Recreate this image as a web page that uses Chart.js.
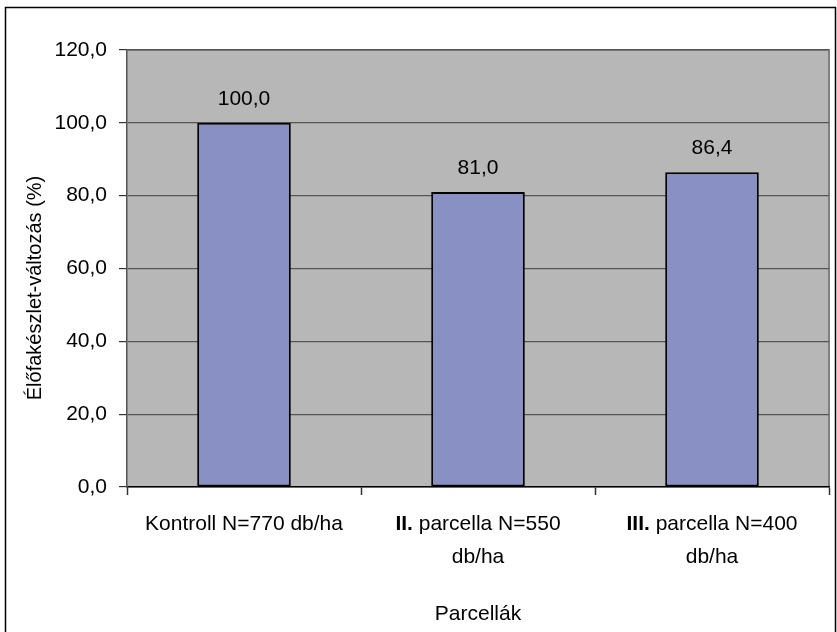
<!DOCTYPE html>
<html>
<head>
<meta charset="utf-8">
<title>Élőfakészlet-változás</title>
<script src="https://cdn.jsdelivr.net/npm/chart.js@4.4.1/dist/chart.umd.min.js"></script>
<style>
  html, body { margin: 0; padding: 0; background: #ffffff; }
  #wrap { width: 837px; height: 632px; position: relative; }
</style>
</head>
<body>
<div id="wrap"><canvas id="grafico"></canvas></div>
<script>
const parcellak = [
  "Kontroll N=770 db/ha",
  ["II. parcella N=550", "db/ha"],
  ["III. parcella N=400", "db/ha"],
];
const valtozas = [100.0, 81.0, 86.4];
const yTengelyCim = "Élőfakészlet-változás (%)";
const xTengelyCim = "Parcellák";

const BETU = "'Liberation Sans', Arial, sans-serif";
const SORKOZ = 33;

function szam(v) {
  return v.toFixed(1).replace(".", ",");
}

// háttér, keret, szürke rajzterület
const hatter = {
  id: "hatter",
  beforeDraw(chart) {
    const { ctx, chartArea: a } = chart;
    ctx.save();
    ctx.fillStyle = "#ffffff";
    ctx.fillRect(0, 0, chart.width, chart.height);
    ctx.strokeStyle = "#000000";
    ctx.lineWidth = 1.5;
    ctx.strokeRect(5.5, 7.5, 830, 700);
    ctx.fillStyle = "#b7b7b7";
    ctx.fillRect(a.left, a.top, a.right - a.left, a.bottom - a.top);
    ctx.strokeStyle = "#808080";
    ctx.lineWidth = 2;
    ctx.beginPath();
    ctx.moveTo(a.left, a.top);
    ctx.lineTo(a.right, a.top);
    ctx.lineTo(a.right, a.bottom);
    ctx.stroke();
    ctx.restore();
  },
};

// egy sor kirajzolása: a római szám (II., III.) félkövér, mint az eredetin
function sorRajz(ctx, szoveg, x, y) {
  const m = szoveg.match(/^([IVX]+\.)(.*)$/);
  const normal = "21px " + BETU;
  const vastag = "bold 21px " + BETU;
  if (!m) {
    ctx.font = normal;
    ctx.textAlign = "center";
    ctx.fillText(szoveg, x, y);
    return;
  }
  ctx.font = vastag;
  const w1 = ctx.measureText(m[1]).width;
  ctx.font = normal;
  const w2 = ctx.measureText(m[2]).width;
  const bal = x - (w1 + w2) / 2;
  ctx.textAlign = "left";
  ctx.font = vastag;
  ctx.fillText(m[1], bal, y);
  ctx.font = normal;
  ctx.fillText(m[2], bal + w1, y);
}

// értékek az oszlopok fölött, kategóriafeliratok, függőleges tengelycím
const feliratok = {
  id: "feliratok",
  afterDraw(chart) {
    const { ctx, chartArea: a } = chart;
    const meta = chart.getDatasetMeta(0);
    const xs = chart.scales.x;
    ctx.save();
    ctx.fillStyle = "#000000";
    ctx.font = "21px " + BETU;
    ctx.textAlign = "center";
    ctx.textBaseline = "alphabetic";
    meta.data.forEach((bar, i) => {
      ctx.fillText(szam(valtozas[i]), bar.x, bar.y - 18);
    });

    ctx.textBaseline = "middle";
    parcellak.forEach((c, i) => {
      const sorok = Array.isArray(c) ? c : [c];
      const x = xs.getPixelForValue(i);
      sorok.forEach((s, j) => {
        sorRajz(ctx, s, x, a.bottom + 8 + 13 + SORKOZ / 2 + j * SORKOZ);
      });
    });

    ctx.translate(35, 288);
    ctx.rotate(-Math.PI / 2);
    ctx.font = "20px " + BETU;
    ctx.textAlign = "center";
    ctx.textBaseline = "middle";
    ctx.fillText(yTengelyCim, 0, 0);
    ctx.restore();
  },
};

new Chart(document.getElementById("grafico"), {
  type: "bar",
  data: {
    labels: parcellak,
    datasets: [
      {
        data: valtozas,
        backgroundColor: "#8890c4",
        borderColor: "#000000",
        borderWidth: 2,
        borderSkipped: false,
        barPercentage: 0.4,
        categoryPercentage: 1.0,
      },
    ],
  },
  options: {
    responsive: true,
    maintainAspectRatio: false,
    animation: false,
    layout: { padding: { left: 0, right: 8, top: 50, bottom: 0 } },
    plugins: {
      legend: { display: false },
      tooltip: { enabled: false },
    },
    scales: {
      x: {
        afterFit: (s) => { s.height = 145; },
        grid: {
          offset: true,
          drawOnChartArea: false,
          drawTicks: true,
          tickLength: 8,
          tickColor: "#333333",
          tickWidth: 1.5,
        },
        border: { color: "#000000", width: 1.5 },
        ticks: {
          // a feliratokat a "feliratok" plugin rajzolja
          color: "rgba(0,0,0,0)",
          padding: 13,
          maxRotation: 0,
          autoSkip: false,
          font: { family: BETU, size: 21, lineHeight: SORKOZ / 21 },
        },
        title: {
          display: true,
          text: xTengelyCim,
          color: "#000000",
          font: { family: BETU, size: 21, lineHeight: 1.2 },
          padding: { top: 0, bottom: 5 },
        },
      },
      y: {
        min: 0,
        max: 120,
        afterFit: (s) => { s.width = 127; },
        grid: {
          color: "#555555",
          lineWidth: 1.2,
          tickLength: 8,
          tickColor: "#333333",
        },
        border: { color: "#555555", width: 1.5 },
        ticks: {
          stepSize: 20,
          color: "#000000",
          padding: 12,
          font: { family: BETU, size: 21 },
          callback: (v) => szam(v),
        },
      },
    },
  },
  plugins: [hatter, feliratok],
});
</script>
</body>
</html>
